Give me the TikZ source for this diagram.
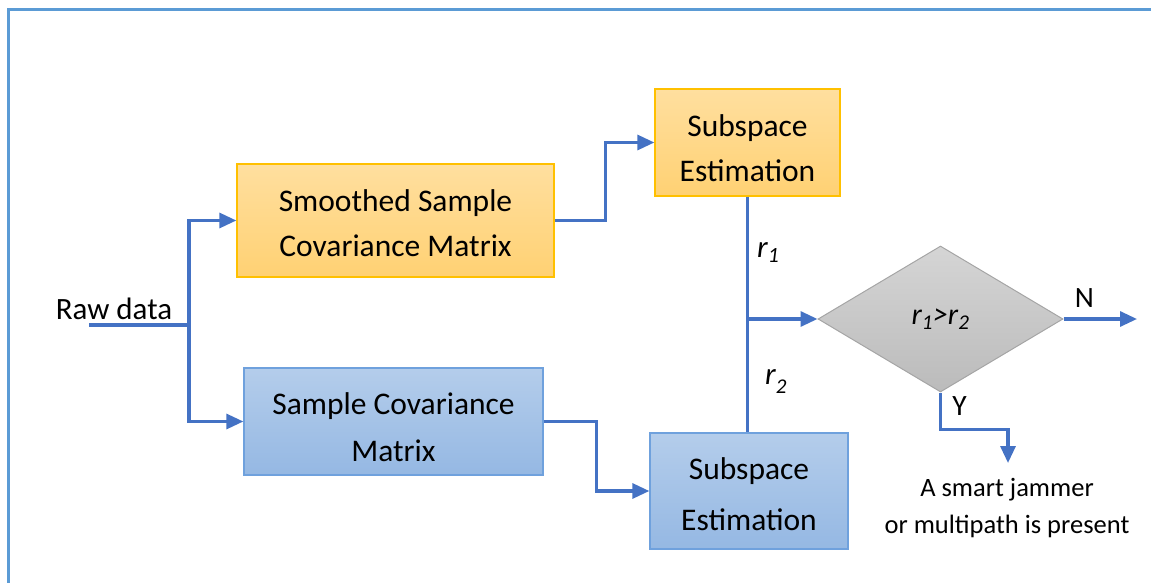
\documentclass[tikz,border=0pt]{standalone}
\usepackage{fontspec}
\setmainfont{Carlito}
\usetikzlibrary{arrows.meta,shapes.geometric}

\definecolor{link}{HTML}{4472C4}
\definecolor{frameblue}{HTML}{5B9BD5}
\definecolor{orangeedge}{HTML}{FFC000}
\definecolor{orangetop}{HTML}{FFDF9F}
\definecolor{orangebot}{HTML}{FFD173}
\definecolor{blueedge}{HTML}{6FA1DD}
\definecolor{bluetop}{HTML}{B4CDEB}
\definecolor{bluebot}{HTML}{95B8E3}
\definecolor{grayedge}{HTML}{A5A5A5}
\definecolor{graytop}{HTML}{D5D5D5}
\definecolor{graybot}{HTML}{BBBBBB}

% invisible rule that fixes the height of a node's first line
\newcommand\firstline[1]{\rule{0pt}{#1pt}}

\tikzset{
  box/.style={rectangle, inner sep=0pt, align=center, line width=1.3pt},
  orangebox/.style={box, draw=orangeedge, top color=orangetop, bottom color=orangebot},
  bluebox/.style={box, draw=blueedge, top color=bluetop, bottom color=bluebot},
  decision/.style={diamond, inner sep=0pt, line width=1pt, draw=grayedge,
    top color=graytop, bottom color=graybot,
    minimum width=245pt, minimum height=146pt,
    font=\fontsize{30}{36}\selectfont\itshape},
  wire/.style={draw=link, line width=3.2pt},
  flow/.style={wire, -{Triangle[length=17pt,width=15pt]}},
  lbl/.style={inner sep=0pt, font=\fontsize{29.5}{35}\selectfont},
  sublbl/.style={inner sep=0pt, font=\fontsize{31}{37}\selectfont\itshape},
  frame/.style={draw=frameblue, line width=2.5pt},
}

\begin{document}
\begin{tikzpicture}[x=1pt, y=-1pt]
\useasboundingbox (0,0) rectangle (1151,583);

% outer frame (runs off the right and bottom edges)
\draw[frame] (1151,9.5) -- (8.5,9.5) -- (8.5,583);

% processing blocks
\node[orangebox, minimum width=317pt, minimum height=113pt,
      font=\fontsize{31.5}{45}\selectfont] (smooth) at (395.5,220.5)
  {\firstline{28}Smoothed Sample\\Covariance Matrix};
\node[orangebox, minimum width=185pt, minimum height=107pt,
      font=\fontsize{31.5}{45}\selectfont] (sub1) at (747.5,142.5)
  {\firstline{34}Subspace\\Estimation};
\node[bluebox, minimum width=299pt, minimum height=107pt,
      font=\fontsize{31.5}{47}\selectfont] (samp) at (393.5,421.5)
  {\firstline{34}Sample Covariance\\Matrix};
\node[bluebox, minimum width=198pt, minimum height=116pt,
      font=\fontsize{31.5}{51}\selectfont] (sub2) at (749,491)
  {\firstline{29}Subspace\\Estimation};

% decision
\node[decision] (dec) at (940.5,319)
  {\raisebox{-3pt}{r\textsubscript{1}>r\textsubscript{2}}};

% input
\node[inner sep=0pt, anchor=base, font=\fontsize{31}{37}\selectfont] (raw) at (114,319) {Raw data};
\coordinate (src) at (89,325);
\coordinate (split) at (189,325);
\draw[wire] (src) -- (split);
\draw[flow] (split) |- (smooth.west);
\draw[flow] (split) |- (samp.west);

% into the subspace estimators
\draw[flow] (smooth.east) -- ++(51,0) |- (sub1.west);
\draw[flow] (samp.east) -- ++(53,0) |- (sub2.west);

% r1 and r2 merge into the test
\draw[wire] (sub1.south) -- (sub1.south |- sub2.north);
\coordinate (merge) at (sub1.south |- dec.west);
\draw[flow] (merge) -- (dec.west);
\node[sublbl, anchor=base west] (r1) at (757,257) {r\textsubscript{1}};
\node[sublbl, anchor=base west] (r2) at (765,384) {r\raisebox{-9pt}{\fontsize{21}{24}\selectfont 2}};

% outcomes
\coordinate (nout) at (1137,319);
\draw[flow] (dec.east) -- (nout);
\node[lbl] (nlab) at (1084.5,298) {N};

\coordinate (ytip) at (1008,463);
\draw[flow] (dec.south) -- ++(0,37) -| (ytip);
\node[lbl] (ylab) at (959.5,406) {Y};

\node[inner sep=0pt, align=center, font=\fontsize{26.5}{37}\selectfont] (result) at (1007,505.5)
  {\firstline{26}A smart jammer\\or multipath is present\rule[-8pt]{0pt}{8pt}};
\end{tikzpicture}
\end{document}
